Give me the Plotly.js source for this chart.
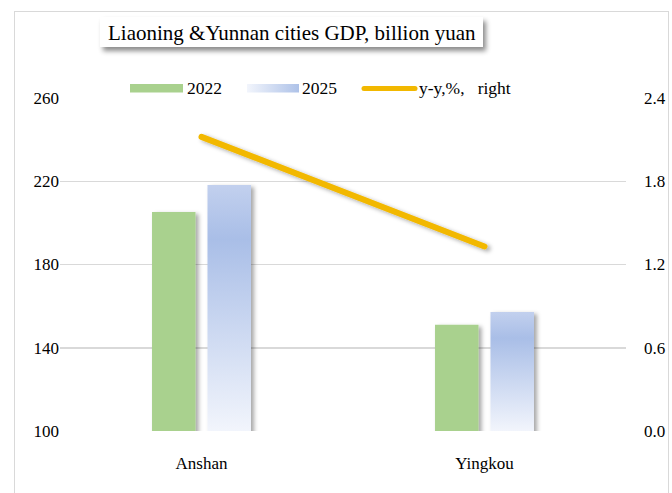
<!DOCTYPE html>
<html>
<head>
<meta charset="utf-8">
<script src="https://cdn.plot.ly/plotly-3.0.1.min.js"></script>
<style>
html,body{margin:0;padding:0;background:#fff;}
#chart{width:672px;height:493px;position:absolute;left:0;top:0;}
#frame{position:absolute;left:14px;top:11px;width:655px;height:500px;border:1.5px solid #d9d9d9;pointer-events:none;box-sizing:border-box;}
</style>
</head>
<body>
<div id="chart"></div>
<div id="frame"></div>
<script>
const categories = ['Anshan', 'Yingkou'];
const gdp2022 = [205.2, 151.0];
const gdp2025 = [218.2, 157.2];
const yoy = [2.12, 1.33];
const seriesNames = ['2022', '2025', 'y-y,%,\u00a0\u00a0\u00a0right'];
const chartTitle = 'Liaoning &Yunnan cities GDP, billion yuan';
const leftTicks = [100, 140, 180, 220, 260];
const rightTicks = [0, 0.6, 1.2, 1.8, 2.4];

const W = 672, H = 493;
const M = {l: 60, r: 46, t: 98, b: 62};
const PW = W - M.l - M.r, PH = H - M.t - M.b;
const px = v => (v - M.l) / PW;
const py = v => (H - M.b - v) / PH;

const serif = 'Liberation Serif, Times New Roman, serif';

const traces = [
  {type: 'bar', x: categories, y: gdp2022, name: seriesNames[0], marker: {color: '#A9D18E'}, yaxis: 'y', hoverinfo: 'skip'},
  {type: 'bar', x: categories, y: gdp2025, name: seriesNames[1], marker: {color: '#B4C7E7'}, yaxis: 'y', hoverinfo: 'skip'},
  {type: 'scatter', mode: 'lines', x: categories, y: yoy, name: seriesNames[2], line: {color: '#F2B800', width: 6}, yaxis: 'y2', hoverinfo: 'skip'}
];

const shapes = [
  {type: 'rect', xref: 'paper', yref: 'paper', x0: px(100), x1: px(483), y0: py(47), y1: py(17), fillcolor: '#ffffff', line: {width: 0}, layer: 'above'},
  {type: 'rect', xref: 'paper', yref: 'paper', x0: px(130), x1: px(183), y0: py(92.5), y1: py(84), fillcolor: '#A9D18E', line: {width: 0}, layer: 'above'},
  {type: 'rect', xref: 'paper', yref: 'paper', x0: px(247), x1: px(299), y0: py(92.5), y1: py(84), fillcolor: '#B4C7E7', line: {width: 0}, layer: 'above'},
  {type: 'line', xref: 'paper', yref: 'paper', x0: px(364), x1: px(415), y0: py(88.5), y1: py(88.5), line: {color: '#F2B800', width: 5}, layer: 'above'}
];

const annotations = [
  {xref: 'paper', yref: 'paper', x: px(291.5), y: py(33), text: chartTitle, showarrow: false, xanchor: 'center', yanchor: 'middle', font: {family: serif, size: 21, color: '#000'}},
  {xref: 'paper', yref: 'paper', x: px(185), y: py(88), text: seriesNames[0], showarrow: false, xanchor: 'left', yanchor: 'middle', font: {family: serif, size: 17.5, color: '#000'}},
  {xref: 'paper', yref: 'paper', x: px(300), y: py(88), text: seriesNames[1], showarrow: false, xanchor: 'left', yanchor: 'middle', font: {family: serif, size: 17.5, color: '#000'}},
  {xref: 'paper', yref: 'paper', x: px(417), y: py(88), text: seriesNames[2], showarrow: false, xanchor: 'left', yanchor: 'middle', font: {family: serif, size: 17.5, color: '#000'}}
];

const layout = {
  width: W, height: H,
  margin: M,
  paper_bgcolor: '#ffffff', plot_bgcolor: '#ffffff',
  showlegend: false,
  barmode: 'group', bargap: 0.608, bargroupgap: 0.216,
  font: {family: serif, size: 17, color: '#000'},
  xaxis: {type: 'category', showgrid: false, zeroline: false, showline: false, ticks: '', ticklabelstandoff: 20, tickfont: {family: serif, size: 17, color: '#000'}},
  yaxis: {range: [100, 260], tickvals: leftTicks, showgrid: true, gridcolor: '#d9d9d9', gridwidth: 1.5, zeroline: false, showline: false, ticks: '', ticklabelstandoff: 0, tickfont: {family: serif, size: 17, color: '#000'}},
  yaxis2: {range: [0, 2.4], tickvals: rightTicks, tickformat: '.1f', overlaying: 'y', side: 'right', showgrid: false, zeroline: false, showline: false, ticks: '', ticklabelstandoff: 17, tickfont: {family: serif, size: 17, color: '#000'}},
  shapes: shapes,
  annotations: annotations
};

Plotly.newPlot('chart', traces, layout, {staticPlot: true, displayModeBar: false}).then(gd => {
  const svg = gd.querySelector('svg.main-svg');
  const NS = 'http://www.w3.org/2000/svg';
  let defs = svg.querySelector('defs');
  if (!defs) { defs = document.createElementNS(NS, 'defs'); svg.insertBefore(defs, svg.firstChild); }
  defs.insertAdjacentHTML('beforeend',
    '<linearGradient id="hgrad" x1="0" y1="0" x2="1" y2="0">' +
      '<stop offset="0" stop-color="#F2F5FC"/>' +
      '<stop offset="1" stop-color="#AEC2E8"/>' +
    '</linearGradient>' +
    '<filter id="shadow" x="-30%" y="-30%" width="160%" height="160%">' +
      '<feDropShadow dx="3" dy="2" stdDeviation="2" flood-color="#000" flood-opacity="0.35"/>' +
    '</filter>' +
    '<filter id="shadow2" x="-10%" y="-30%" width="120%" height="180%">' +
      '<feDropShadow dx="3" dy="4" stdDeviation="2.5" flood-color="#000" flood-opacity="0.45"/>' +
    '</filter>');
  const barTraces = gd.querySelectorAll('.barlayer .trace');
  let gi = 0;
  barTraces.forEach((t, i) => {
    t.querySelectorAll('path').forEach(p => {
      p.setAttribute('filter', 'url(#shadow)');
      if (i === 1) {
        const bb = p.getBBox();
        const top = bb.y, bottom = Math.min(bb.y + bb.height, PH);
        const id = 'vgrad' + (gi++);
        defs.insertAdjacentHTML('beforeend',
          '<linearGradient id="' + id + '" gradientUnits="userSpaceOnUse" x1="0" y1="' + top + '" x2="0" y2="' + bottom + '">' +
            '<stop offset="0" stop-color="#C2D0EE"/>' +
            '<stop offset="0.22" stop-color="#A9BEE7"/>' +
            '<stop offset="1" stop-color="#F2F5FC"/>' +
          '</linearGradient>');
        p.style.fill = 'url(#' + id + ')';
      }
    });
  });
  gd.querySelectorAll('.scatterlayer .trace path.js-line').forEach(p => {
    p.style.strokeLinecap = 'round';
    p.setAttribute('filter', 'url(#shadow)');
  });
  gd.querySelectorAll('.shapelayer path').forEach(p => {
    const idx = p.getAttribute('data-index');
    if (idx === '0') p.setAttribute('filter', 'url(#shadow2)');
    if (idx === '2') p.style.fill = 'url(#hgrad)';
    if (idx === '3') p.style.strokeLinecap = 'round';
  });
});
</script>
</body>
</html>
